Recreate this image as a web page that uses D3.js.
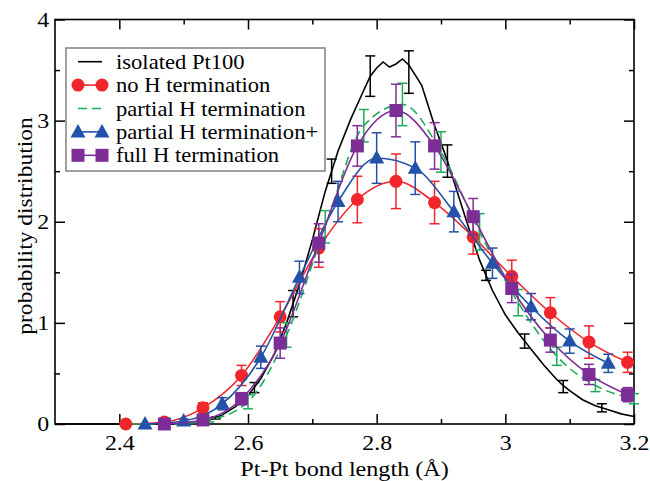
<!DOCTYPE html>
<html><head><meta charset="utf-8">
<script src="https://cdn.jsdelivr.net/npm/d3@7"></script>
</head>
<body style="margin:0;background:#fff"><svg id="c" width="650" height="481"></svg>
<script>
// ---- data ----
const blackX = [2.30,2.40,2.48,2.50,2.52,2.54,2.56,2.58,2.60,2.62,2.64,2.66,2.68,2.70,2.72,2.73,2.74,2.76,2.78,2.79,2.80,2.81,2.82,2.83,2.84,2.85,2.86,2.87,2.88,2.89,2.90,2.91,2.92,2.94,2.96,2.97,2.98,3.00,3.02,3.03,3.04,3.06,3.08,3.09,3.10,3.12,3.14,3.15,3.16,3.18,3.20];
const blackY = [0,0,0,0.005,0.02,0.04,0.09,0.17,0.28,0.45,0.68,1.0,1.38,1.82,2.3,2.5,2.7,3.02,3.3,3.44,3.52,3.58,3.53,3.56,3.61,3.55,3.45,3.35,3.15,2.95,2.78,2.6,2.4,2.0,1.62,1.47,1.32,1.08,0.9,0.82,0.74,0.58,0.44,0.38,0.33,0.24,0.18,0.16,0.14,0.1,0.075];
const blackErrX = [2.55,2.61,2.67,2.73,2.79,2.85,2.91,2.97,3.03,3.09,3.15];
const blackErrY = [0.06,0.36,1.19,2.5,3.44,3.48,2.6,1.47,0.82,0.37,0.16];
const blackErr  = [0.01,0.05,0.13,0.12,0.2,0.21,0.16,0.05,0.07,0.06,0.04];

const redX = [2.41,2.47,2.53,2.59,2.65,2.71,2.77,2.83,2.89,2.95,3.01,3.07,3.13,3.19];
const redY = [0,0.02,0.16,0.48,1.06,1.74,2.22,2.40,2.19,1.85,1.46,1.10,0.81,0.61];
const redErr = [0,0.01,0.05,0.1,0.15,0.19,0.23,0.27,0.21,0.17,0.16,0.15,0.16,0.10];

const greenX = [2.42,2.48,2.54,2.60,2.66,2.72,2.78,2.84,2.90,2.96,3.02,3.08,3.14,3.20];
const greenY = [0,0,0.04,0.22,0.88,1.95,2.95,3.16,2.69,1.90,1.20,0.67,0.38,0.25];
const greenErr = [0,0,0.02,0.07,0.12,0.16,0.16,0.21,0.2,0.18,0.13,0.09,0.06,0.05];

const blueX = [2.44,2.50,2.56,2.62,2.68,2.74,2.80,2.86,2.92,2.98,3.04,3.10,3.16];
const blueY = [0,0.03,0.2,0.66,1.45,2.2,2.63,2.53,2.10,1.59,1.16,0.82,0.60];
const blueErr = [0,0.02,0.06,0.11,0.16,0.2,0.25,0.26,0.2,0.15,0.13,0.12,0.09];

const purpleX = [2.47,2.53,2.59,2.65,2.71,2.77,2.83,2.89,2.95,3.01,3.07,3.13,3.19];
const purpleY = [0,0.04,0.25,0.8,1.79,2.75,3.10,2.75,2.05,1.34,0.83,0.49,0.29];
const purpleErr = [0,0.02,0.06,0.15,0.19,0.2,0.26,0.23,0.18,0.14,0.12,0.1,0.07];

const xMajor = [2.4,2.6,2.8,3.0,3.2];
const xMajorLabels = ["2.4","2.6","2.8","3","3.2"];
const xMinor = [2.5,2.7,2.9,3.1];
const yMajor = [0,1,2,3,4];
const yMajorLabels = ["0","1","2","3","4"];
const yMinor = [0.5,1.5,2.5,3.5];

const legendLabels = ["isolated Pt100","no H termination","partial H termination","partial H termination+","full H termination"];
const colors = {black:"#000000", red:"#f0262c", green:"#1fab5c", blue:"#2352a8", purple:"#7d2e96"};

// ---- chart ----
const FONT = '"Liberation Serif"';
const svg = d3.select("#c");
const L=55, R=634, T=19.5, B=424;
const x = d3.scaleLinear().domain([2.3,3.2]).range([L,R]);
const y = d3.scaleLinear().domain([0,4]).range([B,T]);
const SX = 1.14;

function axisG(gen, tx, ty){
  const g = svg.append("g").attr("transform",`translate(${tx},${ty})`).call(gen);
  g.attr("font-family",null);
  g.select(".domain").remove();
  g.selectAll("line").attr("stroke","#000").attr("stroke-width",1.5);
  return g;
}
function styleTicks(g){
  g.selectAll("text").style("font-family",FONT).attr("font-size",21).attr("fill","#000")
    .attr("transform",`scale(${SX},1)`);
}
// bottom
const gb = axisG(d3.axisBottom(x).tickValues(xMajor).tickSize(-10).tickPadding(11)
  .tickFormat((d,i)=>xMajorLabels[i]), 0, B);
styleTicks(gb);
axisG(d3.axisBottom(x).tickValues(xMinor).tickSize(-5).tickFormat(""),0,B);
// top
axisG(d3.axisTop(x).tickValues(xMajor).tickSize(-10).tickFormat(""),0,T);
axisG(d3.axisTop(x).tickValues(xMinor).tickSize(-5).tickFormat(""),0,T);
// left
const gl = axisG(d3.axisLeft(y).tickValues(yMajor).tickSize(-10).tickPadding(5)
  .tickFormat((d,i)=>yMajorLabels[i]), L, 0);
styleTicks(gl);
axisG(d3.axisLeft(y).tickValues(yMinor).tickSize(-5).tickFormat(""),L,0);
// right
axisG(d3.axisRight(y).tickValues(yMajor).tickSize(-10).tickFormat(""),R,0);
axisG(d3.axisRight(y).tickValues(yMinor).tickSize(-5).tickFormat(""),R,0);

// frame
svg.append("rect").attr("x",L).attr("y",T).attr("width",R-L).attr("height",B-T)
  .attr("fill","none").attr("stroke","#000").attr("stroke-width",1.6);

// titles
svg.append("text").attr("transform",`translate(${(L+R)/2},476) scale(1.15,1)`).attr("text-anchor","middle")
  .style("font-family",FONT).attr("font-size",21)
  .text("Pt-Pt bond length (Å)");
svg.append("text").attr("transform","translate(32,226) rotate(-90) scale(1.12,1)").attr("text-anchor","middle")
  .style("font-family",FONT).attr("font-size",21)
  .text("probability distribution");

// series helpers
function zip(xs,ys){return xs.map((v,i)=>[v,ys[i]]);}
function drawErr(xs,ys,es,color){
  const g = svg.append("g").attr("stroke",color).attr("stroke-width",1.5).attr("fill","none");
  xs.forEach((v,i)=>{
    if(es[i]<=0) return;
    const cx=x(v), y1=y(ys[i]-es[i]), y2=y(ys[i]+es[i]);
    g.append("line").attr("x1",cx).attr("x2",cx).attr("y1",y1).attr("y2",y2);
    g.append("line").attr("x1",cx-5).attr("x2",cx+5).attr("y1",y1).attr("y2",y1);
    g.append("line").attr("x1",cx-5).attr("x2",cx+5).attr("y1",y2).attr("y2",y2);
  });
}
function drawLine(pts,color,curve,dash){
  svg.append("path").datum(pts)
    .attr("d",d3.line().x(d=>x(d[0])).y(d=>y(d[1])).curve(curve))
    .attr("fill","none").attr("stroke",color).attr("stroke-width",1.6)
    .attr("stroke-dasharray",dash||null);
}
function marker(g,kind,cx,cy,color){
  if(kind==="circle") g.append("circle").attr("cx",cx).attr("cy",cy).attr("r",6.5).attr("fill",color);
  else if(kind==="tri") g.append("path").attr("d",`M${cx},${cy-8}L${cx+7.5},${cy+5.5}L${cx-7.5},${cy+5.5}Z`).attr("fill",color);
  else if(kind==="sq") g.append("rect").attr("x",cx-6.5).attr("y",cy-6.5).attr("width",13).attr("height",13).attr("fill",color);
}
function drawMarkers(xs,ys,kind,color){
  const g=svg.append("g");
  xs.forEach((v,i)=>marker(g,kind,x(v),y(ys[i]),color));
}

// black
drawLine(zip(blackX,blackY),colors.black,d3.curveLinear);
drawErr(blackErrX,blackErrY,blackErr,colors.black);
// red
drawErr(redX,redY,redErr,colors.red);
drawLine(zip(redX,redY),colors.red,d3.curveMonotoneX);
drawMarkers(redX,redY,"circle",colors.red);
// green
drawErr(greenX,greenY,greenErr,colors.green);
drawLine(zip(greenX,greenY),colors.green,d3.curveMonotoneX,"9,5");
// blue
drawErr(blueX,blueY,blueErr,colors.blue);
drawLine(zip(blueX,blueY),colors.blue,d3.curveMonotoneX);
drawMarkers(blueX,blueY,"tri",colors.blue);
// purple
drawErr(purpleX,purpleY,purpleErr,colors.purple);
drawLine(zip(purpleX,purpleY),colors.purple,d3.curveMonotoneX);
drawMarkers(purpleX,purpleY,"sq",colors.purple);

// legend
const lg = svg.append("g");
lg.append("rect").attr("x",66).attr("y",48).attr("width",259).attr("height",123)
  .attr("fill","#fff").attr("stroke","#808080").attr("stroke-width",1.5);
const kinds = [null,"circle",null,"tri","sq"];
const lcol = [colors.black,colors.red,colors.green,colors.blue,colors.purple];
legendLabels.forEach((lab,i)=>{
  const yy = 61.7 + i*23.4;
  lg.append("line").attr("x1",78).attr("x2",102).attr("y1",yy).attr("y2",yy)
    .attr("stroke",lcol[i]).attr("stroke-width",1.6).attr("stroke-dasharray",i===2?"9,5":null);
  if(kinds[i]){ marker(lg,kinds[i],78,yy,lcol[i]); marker(lg,kinds[i],102,yy,lcol[i]); }
  lg.append("text").attr("transform",`translate(116,${yy+7}) scale(1.13,1)`)
    .style("font-family",FONT).attr("font-size",20).text(lab);
});
</script></body></html>
